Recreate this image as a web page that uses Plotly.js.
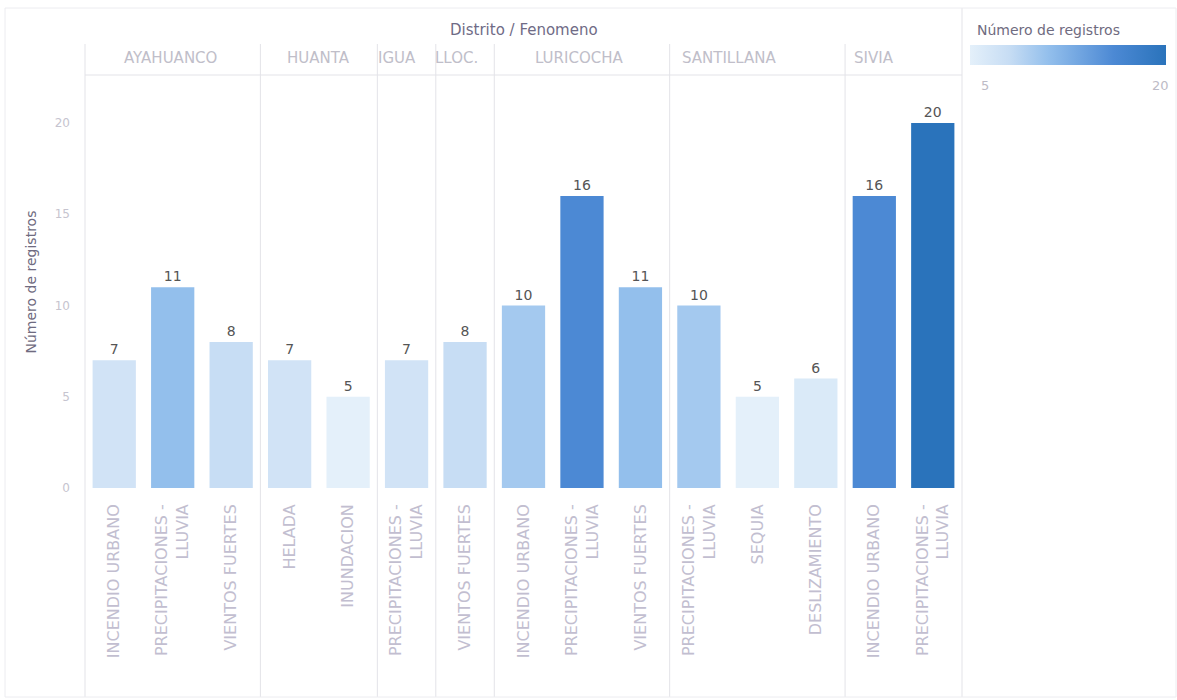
<!DOCTYPE html>
<html><head><meta charset="utf-8">
<script src="https://cdn.plot.ly/plotly-3.0.1.min.js"></script>
<style>html,body{margin:0;padding:0;background:#fff}</style>
</head><body>
<div id="chart" style="width:1177px;height:700px"></div>
<script>
// ---- data ----
const districts = ['AYAHUANCO','AYAHUANCO','AYAHUANCO','HUANTA','HUANTA','IGUA','LLOC.','LURICOCHA','LURICOCHA','LURICOCHA','SANTILLANA','SANTILLANA','SANTILLANA','SIVIA','SIVIA'];
const phenomena = ['INCENDIO URBANO','PRECIPITACIONES - LLUVIA','VIENTOS FUERTES','HELADA','INUNDACION','PRECIPITACIONES - LLUVIA','VIENTOS FUERTES','INCENDIO URBANO','PRECIPITACIONES - LLUVIA','VIENTOS FUERTES','PRECIPITACIONES - LLUVIA','SEQUIA','DESLIZAMIENTO','INCENDIO URBANO','PRECIPITACIONES - LLUVIA'];
const counts = [7,11,8,7,5,7,8,10,16,11,10,5,6,16,20];
const yTicks = [0,5,10,15,20];
const colorMin = 5, colorMax = 20;
const chartTitle = 'Distrito / Fenomeno';
const measureName = 'Número de registros';

// ---- geometry / style (not data) ----
const W=1177, H=700, ML=85, MR=215, MT=76, MB=212;
const pw = W-ML-MR, ph = H-MT-MB;
const xr = [-0.5, counts.length-0.5];
const px = v => (v - xr[0])/(xr[1]-xr[0]);
const pxPix = p => (p-ML)/pw;
const pyPix = p => (H-MB-p)/ph;
const xs = counts.map((_, i) => i);
const headerShiftPx = [-2,0,-10,-9,-3,-28,-30];
const FONT = 'DejaVu Sans, sans-serif';

// groups
const groups = [];
districts.forEach((d,i)=>{
  if(!groups.length || groups[groups.length-1].name!==d) groups.push({name:d,s:i,e:i});
  else groups[groups.length-1].e=i;
});

const lineCol = '#e3e3e8';
const shapes = [];
const annotations = [];
groups.forEach((g,k)=>{
  annotations.push({xref:'x',yref:'paper',x:(g.s+g.e)/2,xshift:headerShiftPx[k]||0,y:pyPix(58),text:g.name,showarrow:false,
    font:{family:FONT,size:15,color:'#c0bec9'},xanchor:'center',yanchor:'middle'});
  if(k<groups.length-1){
    shapes.push({type:'line',xref:'paper',yref:'paper',x0:px(g.e+0.5),x1:px(g.e+0.5),y0:pyPix(44),y1:pyPix(697),line:{color:lineCol,width:1}});
  }
});
shapes.push({type:'line',xref:'paper',yref:'paper',x0:0,x1:0,y0:pyPix(44),y1:pyPix(697),line:{color:lineCol,width:1}});
shapes.push({type:'line',xref:'paper',yref:'paper',x0:0,x1:1,y0:pyPix(75),y1:pyPix(75),line:{color:lineCol,width:1}});
shapes.push({type:'line',xref:'paper',yref:'paper',x0:1,x1:1,y0:pyPix(8),y1:pyPix(697),line:{color:lineCol,width:1}});
shapes.push({type:'rect',xref:'paper',yref:'paper',x0:pxPix(5),x1:pxPix(1176),y0:pyPix(8),y1:pyPix(697),line:{color:'#ececf0',width:1}});

annotations.push({xref:'paper',yref:'paper',x:0.5,y:pyPix(30),text:chartTitle,showarrow:false,
  font:{family:FONT,size:15,color:'#6f6b86'},xanchor:'center',yanchor:'middle'});
// legend title and end labels
annotations.push({xref:'paper',yref:'paper',x:pxPix(975),y:pyPix(30),text:measureName,showarrow:false,
  font:{family:FONT,size:14,color:'#6f6b80'},xanchor:'left',yanchor:'middle'});
annotations.push({xref:'paper',yref:'paper',x:pxPix(985),y:pyPix(85),text:String(colorMin),showarrow:false,
  font:{family:FONT,size:13,color:'#bdbbc6'},xanchor:'center',yanchor:'middle'});
annotations.push({xref:'paper',yref:'paper',x:pxPix(1160),y:pyPix(85),text:String(colorMax),showarrow:false,
  font:{family:FONT,size:13,color:'#bdbbc6'},xanchor:'center',yanchor:'middle'});

const trace = {
  type:'bar', x:xs, y:counts, width:0.74,
  text:counts.map(String), textposition:'outside', cliponaxis:false,
  textfont:{family:FONT,size:14,color:'#555'},
  hoverinfo:'none',
  marker:{
    color:counts, cmin:colorMin, cmax:colorMax,
    colorscale:[[0,'#e4f0fa'],[0.2,'#c7ddf4'],[0.4,'#93bfec'],[0.733,'#4c89d4'],[1,'#2a73bb']],
    line:{width:0},
    colorbar:{orientation:'h',x:pxPix(970),xanchor:'left',y:pyPix(55),yanchor:'middle',
      len:196,lenmode:'pixels',thickness:20,thicknessmode:'pixels',outlinewidth:0,
      showticklabels:false,ticks:'',xpad:0,ypad:0}
  }
};

const layout = {
  width:W, height:H, margin:{l:ML,r:MR,t:MT,b:MB,autoexpand:false},
  paper_bgcolor:'#fff', plot_bgcolor:'#fff', showlegend:false,
  xaxis:{range:xr, tickvals:xs, ticktext:phenomena.map(p=>p.replace(' - ',' -<br>')),
    tickangle:-90, ticks:'', showgrid:false, zeroline:false, showline:false, ticklabelstandoff:12,
    tickfont:{family:FONT,size:16,color:'#c2bed0'}, fixedrange:true},
  yaxis:{range:[0,(H-MB-MT)/((488-123)/20)], tickvals:yTicks, ticks:'', showgrid:false, zeroline:false, showline:false,
    ticklabelstandoff:14,
    tickfont:{family:FONT,size:12,color:'#c6c4cf'},
    title:{text:measureName,font:{family:FONT,size:14,color:'#6f6b80'},standoff:14}, fixedrange:true},
  shapes, annotations
};
Plotly.newPlot('chart',[trace],layout,{displayModeBar:false,staticPlot:true});
</script>
</body></html>
